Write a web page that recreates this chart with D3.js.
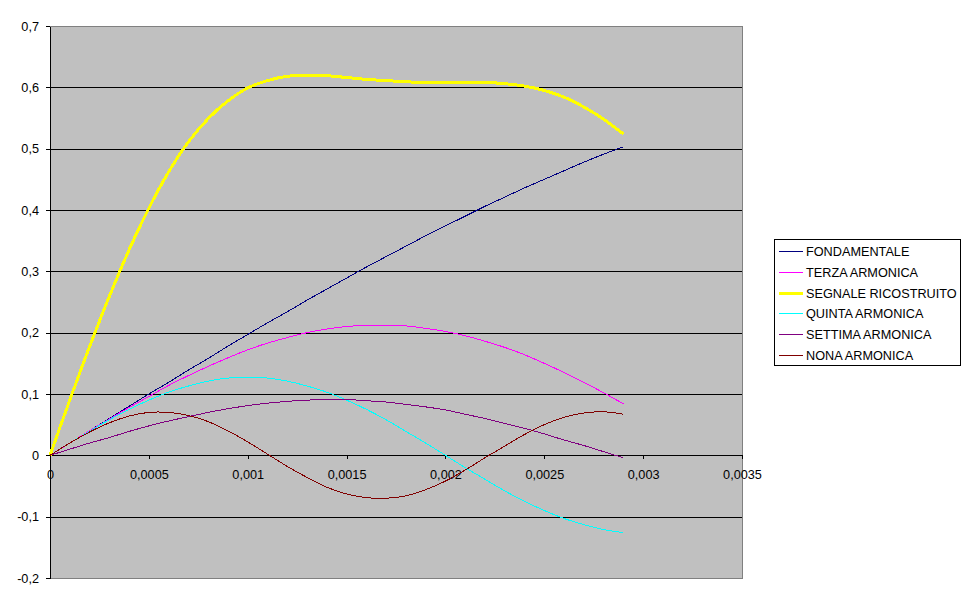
<!DOCTYPE html>
<html>
<head>
<meta charset="utf-8">
<script src="https://cdn.jsdelivr.net/npm/d3@7"></script>
<style>
  body { margin: 0; background: #fff; }
  svg { display: block; font-family: "Liberation Sans", Arial, sans-serif; }
</style>
</head>
<body>
<div id="chart"></div>
<script>
// time samples (s)
var tempi = [0, 0.0001, 0.0002, 0.0003, 0.0004, 0.0005, 0.0006, 0.0007, 0.0008, 0.0009,
  0.001, 0.0011, 0.0012, 0.0013, 0.0014, 0.0015, 0.0016, 0.0017, 0.0018, 0.0019,
  0.002, 0.0021, 0.0022, 0.0023, 0.0024, 0.0025, 0.0026, 0.0027, 0.0028, 0.0029];

var fondamentale = [0, 0.020, 0.040, 0.060, 0.080, 0.100, 0.119, 0.139, 0.158, 0.178,
  0.197, 0.216, 0.234, 0.253, 0.271, 0.289, 0.307, 0.324, 0.341, 0.358,
  0.374, 0.390, 0.406, 0.421, 0.436, 0.450, 0.464, 0.478, 0.491, 0.503];

var terza = [0, 0.020, 0.040, 0.059, 0.078, 0.096, 0.114, 0.130, 0.145, 0.159,
  0.172, 0.183, 0.192, 0.200, 0.206, 0.210, 0.212, 0.212, 0.211, 0.207,
  0.202, 0.195, 0.186, 0.176, 0.164, 0.150, 0.135, 0.119, 0.102, 0.084];

var segnale = [0, 0.090, 0.177, 0.259, 0.335, 0.403, 0.462, 0.511, 0.549, 0.578,
  0.599, 0.611, 0.618, 0.620, 0.619, 0.616, 0.613, 0.611, 0.609, 0.608,
  0.608, 0.608, 0.608, 0.606, 0.602, 0.595, 0.584, 0.568, 0.548, 0.524];

var quinta = [0, 0.020, 0.039, 0.058, 0.075, 0.090, 0.103, 0.113, 0.121, 0.126,
  0.127, 0.126, 0.121, 0.113, 0.103, 0.090, 0.075, 0.058, 0.039, 0.020,
  0, -0.020, -0.039, -0.058, -0.075, -0.090, -0.103, -0.113, -0.121, -0.126];

var settima = [0, 0.010, 0.020, 0.029, 0.039, 0.048, 0.056, 0.063, 0.070, 0.076,
  0.081, 0.085, 0.088, 0.090, 0.091, 0.091, 0.089, 0.087, 0.083, 0.079,
  0.074, 0.067, 0.060, 0.052, 0.044, 0.035, 0.025, 0.016, 0.006, -0.004];

var nona = [0, 0.020, 0.038, 0.053, 0.064, 0.070, 0.070, 0.065, 0.055, 0.040,
  0.022, 0.002, -0.018, -0.036, -0.052, -0.063, -0.069, -0.070, -0.066, -0.056,
  -0.042, -0.024, -0.004, 0.015, 0.034, 0.050, 0.062, 0.069, 0.071, 0.067];

var nomiSerie = ["FONDAMENTALE", "TERZA ARMONICA", "SEGNALE RICOSTRUITO",
  "QUINTA ARMONICA", "SETTIMA ARMONICA", "NONA ARMONICA"];

var xTicks = [0, 0.0005, 0.001, 0.0015, 0.002, 0.0025, 0.003, 0.0035];
var yTicks = [-0.2, -0.1, 0, 0.1, 0.2, 0.3, 0.4, 0.5, 0.6, 0.7];

var serie = [fondamentale, terza, segnale, quinta, settima, nona];
var colori = ["#000080", "#FF00FF", "#FFFF00", "#00FFFF", "#800080", "#800000"];
var spessori = [1, 1, 3, 1, 1, 1];

var width = 970, height = 604;
var plot = { left: 50, top: 26, right: 742, bottom: 578 };

var svg = d3.select("#chart").append("svg")
    .attr("width", width)
    .attr("height", height);

var x = d3.scaleLinear().domain([0, 0.0035]).range([plot.left, plot.right]);
var y = d3.scaleLinear().domain([-0.2, 0.7]).range([plot.bottom, plot.top]);

// italian decimal comma
var fmt = function (d) { return String(d).replace(".", ","); };

// plot area
svg.append("rect")
    .attr("x", plot.left)
    .attr("y", plot.top)
    .attr("width", plot.right - plot.left)
    .attr("height", plot.bottom - plot.top)
    .attr("fill", "#C0C0C0")
    .attr("stroke", "#808080")
    .attr("shape-rendering", "crispEdges");

// horizontal gridlines
svg.append("g")
    .selectAll("line")
    .data(yTicks.filter(function (d) { return d > -0.2 && d < 0.7; }))
    .enter()
    .append("line")
    .attr("x1", plot.left)
    .attr("x2", plot.right)
    .attr("y1", function (d) { return Math.round(y(d)) + 0.5; })
    .attr("y2", function (d) { return Math.round(y(d)) + 0.5; })
    .attr("stroke", "#000")
    .attr("shape-rendering", "crispEdges");

// axes
var yAxis = svg.append("g")
    .attr("transform", "translate(" + plot.left + ",0)")
    .call(d3.axisLeft(y).tickValues(yTicks).tickFormat(fmt).tickSize(4).tickSizeOuter(0).tickPadding(7));

var xAxis = svg.append("g")
    .attr("transform", "translate(0," + Math.round(y(0)) + ")")
    .call(d3.axisBottom(x).tickValues(xTicks).tickFormat(fmt).tickSize(4).tickSizeOuter(0).tickPadding(11));

[yAxis, xAxis].forEach(function (a) {
    a.selectAll("path, line").attr("stroke", "#000").attr("shape-rendering", "crispEdges");
    a.selectAll("text")
        .attr("fill", "#000")
        .style("font-size", "12.7px")
        .style("font-family", "'Liberation Sans', Arial, sans-serif");
});

// series lines (aliased, like the original)
var line = d3.line()
    .x(function (d, i) { return x(tempi[i]); })
    .y(function (d) { return y(d); })
    .curve(d3.curveCatmullRom.alpha(0.5));

svg.append("g")
    .selectAll("path")
    .data(serie)
    .enter()
    .append("path")
    .attr("d", line)
    .attr("fill", "none")
    .attr("stroke", function (d, i) { return colori[i]; })
    .attr("stroke-width", function (d, i) { return spessori[i]; })
    .attr("shape-rendering", "crispEdges");

// legend
var legend = svg.append("g").attr("transform", "translate(774,239)");
legend.append("rect")
    .attr("x", 0.5)
    .attr("y", 0.5)
    .attr("width", 186)
    .attr("height", 126)
    .attr("fill", "#fff")
    .attr("stroke", "#000")
    .attr("shape-rendering", "crispEdges");

var voci = legend.selectAll("g.voce")
    .data(nomiSerie)
    .enter()
    .append("g")
    .attr("class", "voce")
    .attr("transform", function (d, i) { return "translate(0," + Math.round(12 + i * 20.8) + ")"; });

voci.append("rect")
    .attr("x", 5)
    .attr("y", function (d, i) { return -Math.floor(spessori[i] / 2); })
    .attr("width", 24)
    .attr("height", function (d, i) { return spessori[i]; })
    .attr("fill", function (d, i) { return colori[i]; });

voci.append("text")
    .attr("x", 32)
    .attr("dy", "0.4em")
    .style("font-size", "12.7px")
    .attr("fill", "#000")
    .text(function (d) { return d; });
</script>
</body>
</html>
